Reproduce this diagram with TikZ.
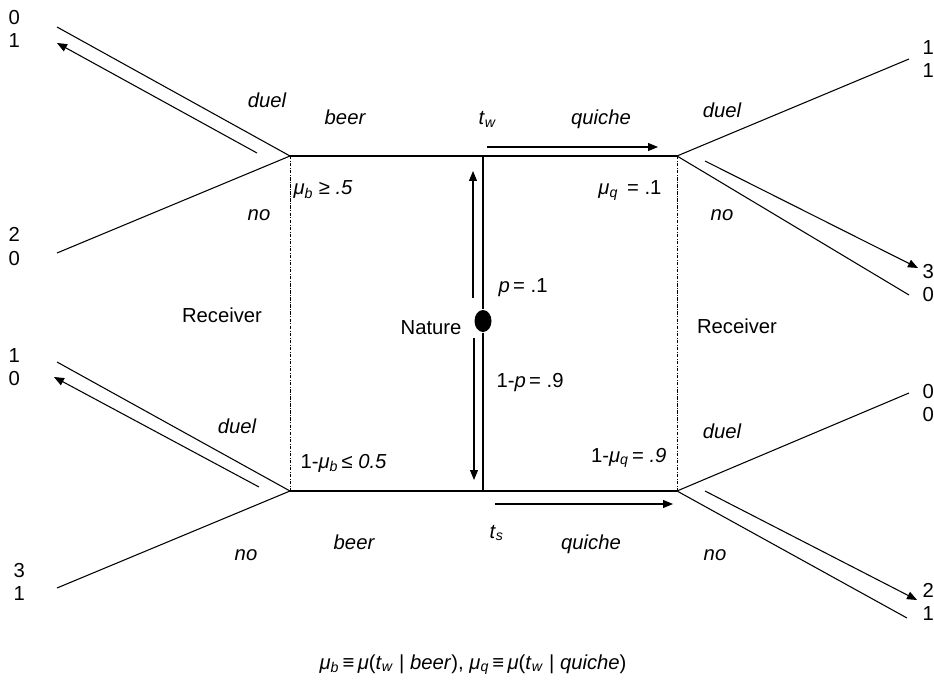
\documentclass[tikz,border=0pt]{standalone}
\usepackage{fontspec}
\setmainfont{Liberation Sans}
\usetikzlibrary{arrows.meta,shapes.geometric}

\newcommand{\mub}{\textit{μ}\textsubscript{\textit{b}}}
\newcommand{\muq}{\textit{μ}\textsubscript{\textit{q}}}
\newcommand{\typew}{\textit{t}\textsubscript{\textit{w}}}
\newcommand{\types}{\textit{t}\textsubscript{\textit{s}}}

\tikzset{every picture/.style={line width=0.8pt}}
\tikzset{
  txt/.style={font=\fontsize{15.2}{17.25}\selectfont, inner sep=0pt, anchor=base},
  lbl/.style={txt, font=\fontsize{15.2}{17.25}\selectfont\itshape},
  pay/.style={txt, align=left, anchor=base west},
  infoset/.style={line width=0.5pt, dash pattern=on 2.5pt off 1.2pt on 0.4pt off 1.2pt},
  play/.style={-{Triangle[length=7.5pt,width=6pt]}},
  nat/.style={ellipse, fill=black, minimum width=12.75pt, minimum height=16.5pt, inner sep=0pt},
}

\begin{document}
\begin{tikzpicture}[x=0.75pt,y=0.75pt,yscale=-1,xscale=1]
	\useasboundingbox (0,0) rectangle (934,684);

	% decision points
	\coordinate (lt) at (290,156);
	\coordinate (lb) at (290,491);
	\coordinate (rt) at (677,156);
	\coordinate (rb) at (677,491);
	\coordinate (nt) at (483,156);
	\coordinate (nb) at (483,491);
	% terminal points
	\coordinate (ltd) at (57,27);
	\coordinate (ltn) at (57,253);
	\coordinate (lbd) at (57,362);
	\coordinate (lbn) at (57,588);
	\coordinate (rtd) at (909,59);
	\coordinate (rtn) at (909,295);
	\coordinate (rbd) at (909,393);
	\coordinate (rbn) at (907,618);

	% Nature
	\node[nat] (nat) at (483,321) {};

	%Straight Lines
	\draw (lt) -- (nt) -- (rt);
	\draw (lb) -- (nb) -- (rb);
	\draw (nt) -- (nat) -- (nb);
	\draw (lt) -- (ltd);
	\draw (lt) -- (ltn);
	\draw (lb) -- (lbd);
	\draw (lb) -- (lbn);
	\draw (rt) -- (rtd);
	\draw (rt) -- (rtn);
	\draw (rb) -- (rbd);
	\draw (rb) -- (rbn);

	%Information sets
	\draw[infoset] (lt) -- (lb);
	\draw[infoset] (rt) -- (rb);

	%Arrows
	\draw[play] (257,153) -- (57,43);
	\draw[play] (259,487) -- (54,377);
	\draw[play] (705,161) -- (918,268);
	\draw[play] (705,491) -- (917,600);
	\draw[play] (473,298) -- (473,171);
	\draw[play] (474,338) -- (474,480);
	\draw[play] (487,147) -- (658,147);
	\draw[play] (495,504) -- (673,504);

	% Payoffs (base = second line)
	\node[pay] (p1) at (8,48) {0\\1};
	\node[pay] (p2) at (8,265) {2\\0};
	\node[pay] (p3) at (8,385) {1\\0};
	\node[pay] (p4) at (13,600) {3\\1};
	\node[pay] (p5) at (922,78) {1\\1};
	\node[pay] (p6) at (922,301) {3\\0};
	\node[pay] (p7) at (922,421) {0\\0};
	\node[pay] (p8) at (922,620) {2\\1};

	% Text Node
	\node[lbl] (duel1) at (267,108) {duel};
	\node[lbl] (no1) at (259,220) {no};
	\node[lbl] (beer1) at (345,125) {beer};
	\node[txt, anchor=base west] (tw) at (478,125) {\typew};
	\node[lbl] (quiche1) at (601,125) {quiche};
	\node[lbl] (duel2) at (722,118) {duel};
	\node[lbl] (no2) at (722,220) {no};
	\node[txt, anchor=base west] (belb) at (293,195) {\mub\ {\itshape≥ .5}};
	\node[txt, anchor=base east] (belq) at (662,195) {\muq\ \,= .1};
	\node[txt, anchor=base west] (pr) at (498,292) {\textit{p}\,= .1};
	\node[txt, anchor=base east] (natl) at (462,334) {Nature};
	\node[txt, anchor=base west] (pr2) at (496,387) {1-\textit{p}\,= .9};
	\node[txt] (rec1) at (222,322) {Receiver};
	\node[txt] (rec2) at (737,333) {Receiver};
	\node[lbl] (duel3) at (237,433) {duel};
	\node[txt, anchor=base west] (belb2) at (300,468) {1-\mub\,{\itshape≤ 0.5}};
	\node[txt, anchor=base east] (belq2) at (667,462) {1-\muq\,= \textit{.9}};
	\node[lbl] (duel4) at (722,438) {duel};
	\node[lbl] (no3) at (246,560) {no};
	\node[lbl] (beer2) at (354,549) {beer};
	\node[txt, anchor=base west] (ts) at (489,538) {\types};
	\node[lbl] (quiche2) at (591,549) {quiche};
	\node[lbl] (no4) at (715,560) {no};
	\node[txt] (defs) at (473,669) {\mub\,≡\,\textit{μ}(\typew\ | \textit{beer}), \muq\,≡\,\textit{μ}(\typew\ | \textit{quiche})};
\end{tikzpicture}
\end{document}
